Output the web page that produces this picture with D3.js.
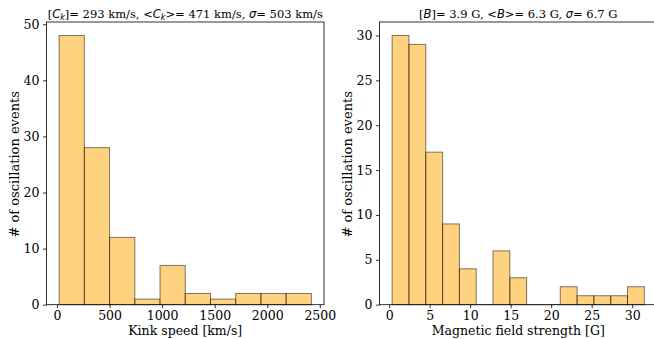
<!DOCTYPE html>
<html><head><meta charset="utf-8">
<script src="https://cdn.jsdelivr.net/npm/d3@7/dist/d3.min.js"></script>
<style>body{margin:0;background:#fff}svg{display:block}</style>
</head><body>
<svg id="c" width="654" height="339"></svg>
<script>
// ---- data ----
const speedEdges = [20, 260, 500, 740, 980, 1220, 1460, 1700, 1940, 2180, 2420];
const speedCounts = [48, 28, 12, 1, 7, 2, 1, 2, 2, 2];
const speedTicks = [0, 500, 1000, 1500, 2000, 2500];
const speedYTicks = [0, 10, 20, 30, 40, 50];

const fieldEdges = [0.37, 2.45, 4.52, 6.6, 8.67, 10.75, 12.82, 14.9, 16.97, 19.05, 21.12, 23.2, 25.27, 27.35, 29.42, 31.5];
const fieldCounts = [30, 29, 17, 9, 4, 0, 6, 3, 0, 0, 2, 1, 1, 1, 2];
const fieldTicks = [0, 5, 10, 15, 20, 25, 30];
const fieldYTicks = [0, 5, 10, 15, 20, 25, 30];

const svg = d3.select("#c");
const serif = "'DejaVu Serif', 'Liberation Serif', serif";
const sans = "'DejaVu Sans', sans-serif";

function panel(o) {
  const g = svg.append("g");
  const x = d3.scaleLinear().domain(o.xdom).range([o.left, o.right]);
  const y = d3.scaleLinear().domain([0, o.ymax]).range([o.bottom, o.top]);
  const bins = o.counts.map((c, i) => ({x0: o.edges[i], x1: o.edges[i + 1], c}));
  g.selectAll("rect.bar").data(bins.filter(b => b.c > 0)).join("rect")
    .attr("class", "bar")
    .attr("x", d => x(d.x0)).attr("width", d => x(d.x1) - x(d.x0))
    .attr("y", d => y(d.c)).attr("height", d => y(0) - y(d.c))
    .attr("fill", "orange").attr("fill-opacity", 0.5)
    .attr("stroke", "#000").attr("stroke-opacity", 0.5).attr("stroke-width", 1);
  g.selectAll("line.zero").data(bins.filter(b => b.c === 0)).join("line")
    .attr("x1", d => x(d.x0)).attr("x2", d => x(d.x1))
    .attr("y1", y(0)).attr("y2", y(0))
    .attr("stroke", "#000").attr("stroke-opacity", 0.5);
  const xa = g.append("g").attr("transform", `translate(0,${o.bottom})`)
    .call(d3.axisBottom(x).tickValues(o.xticks).tickSize(3.5).tickPadding(3).tickFormat(d3.format("d")));
  const ya = g.append("g").attr("transform", `translate(${o.left},0)`)
    .call(d3.axisLeft(y).tickValues(o.yticks).tickSize(3.5).tickPadding(3.5).tickFormat(d3.format("d")));
  [xa, ya].forEach(a => {
    a.attr("font-family", serif).attr("font-size", 12.5);
    a.select(".domain").remove();
    a.selectAll("text").style("font-family", serif).style("font-size", "12.5px").attr("fill", "#000");
    a.selectAll("line").attr("stroke", "#000").attr("stroke-width", 0.8);
  });
  g.append("rect").attr("x", o.left).attr("y", o.top)
    .attr("width", o.right - o.left).attr("height", o.bottom - o.top)
    .attr("fill", "none").attr("stroke", "#000").attr("stroke-width", 0.8);
  g.append("text").attr("x", (o.left + o.right) / 2).attr("y", 335)
    .attr("text-anchor", "middle").style("font-family", serif).style("font-size", "12.5px")
    .text(o.xlabel);
  g.append("text").attr("transform", `translate(${o.ylx},${(o.top + o.bottom) / 2 + 1}) rotate(-90)`)
    .attr("text-anchor", "middle").style("font-family", serif).style("font-size", "13px")
    .text("# of oscillation events");
  const t = g.append("text").attr("x", (o.left + o.right) / 2).attr("y", 17.5)
    .attr("text-anchor", "middle").style("font-family", serif).style("font-size", "11.5px");
  o.title(t);
}

function mathSym(t, sym, sub) {
  t.append("tspan").style("font-family", sans).style("font-style", "italic").text(sym);
  if (sub) t.append("tspan").style("font-family", sans).style("font-style", "italic")
    .style("font-size", "8px").attr("dy", 2.5).text(sub);
}
function plain(t, s, dy) { t.append("tspan").attr("dy", dy || 0).text(s); }

panel({
  left: 46.5, right: 324, top: 22, bottom: 304.7,
  xdom: [-100, 2540], ymax: 50.4,
  edges: speedEdges, counts: speedCounts, xticks: speedTicks, yticks: speedYTicks,
  xlabel: "Kink speed [km/s]", ylx: 19,
  title: t => {
    plain(t, "["); mathSym(t, "C", "k"); plain(t, "]= 293 km/s, <", -2.5);
    mathSym(t, "C", "k"); plain(t, ">= 471 km/s, ", -2.5);
    t.append("tspan").style("font-family", sans).style("font-style", "italic").text("σ");
    plain(t, "= 503 km/s");
  }
});

panel({
  left: 379.5, right: 657, top: 22, bottom: 304.7,
  xdom: [-1.19, 33.06], ymax: 31.5,
  edges: fieldEdges, counts: fieldCounts, xticks: fieldTicks, yticks: fieldYTicks,
  xlabel: "Magnetic field strength [G]", ylx: 352,
  title: t => {
    plain(t, "["); mathSym(t, "B"); plain(t, "]= 3.9 G, <");
    mathSym(t, "B"); plain(t, ">= 6.3 G, ");
    t.append("tspan").style("font-family", sans).style("font-style", "italic").text("σ");
    plain(t, "= 6.7 G");
  }
});
</script>
</body></html>
